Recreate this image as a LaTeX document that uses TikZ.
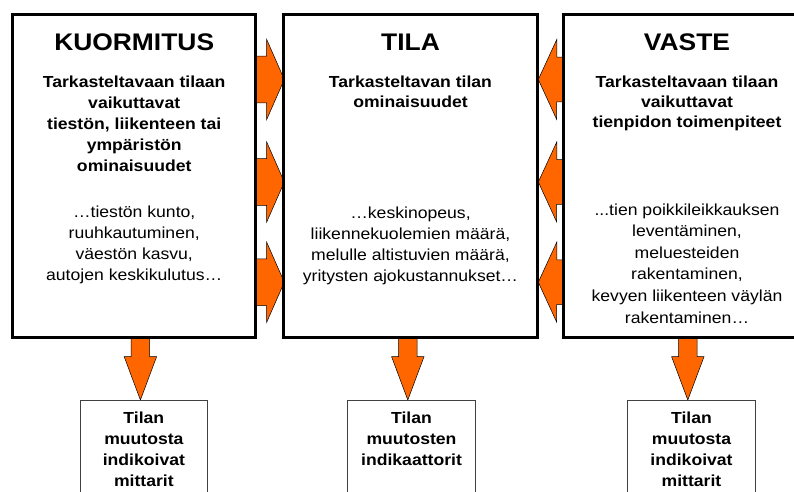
\documentclass[tikz,border=0pt]{standalone}
\usepackage{fontspec}
\setmainfont{Liberation Sans}[FakeStretch=1.1]
\usetikzlibrary{calc,backgrounds}
\definecolor{arroworange}{HTML}{FF6600}
\begin{document}
\begin{tikzpicture}[x=1pt,y=-1pt,
  mainbox/.style={draw=black, line width=3pt, inner sep=0pt, outer sep=0pt},
  smallbox/.style={draw=black!75, line width=0.9pt, inner sep=0pt, outer sep=0pt},
  headline/.style={font=\fontsize{24}{28}\selectfont\bfseries, anchor=base, inner sep=0pt},
  lead/.style={font=\fontsize{16}{21}\selectfont\bfseries, align=center, anchor=base, inner sep=0pt},
  detail/.style={font=\fontsize{16}{21}\selectfont, align=center, anchor=base, inner sep=0pt},
  blockarrow/.style={fill=arroworange, draw=black, line width=0.5pt, line join=miter}]
\useasboundingbox (0,0) rectangle (794,491);
\clip (0,0) rectangle (794,491);

% three main columns
\node[mainbox, minimum width=243pt, minimum height=323.1pt] (kuorm) at (134.2,175.75) {};
\node[mainbox, minimum width=254.4pt, minimum height=323.1pt] (tila) at (410.5,175.75) {};
\node[mainbox, minimum width=247.7pt, minimum height=323.1pt] (vaste) at (687.2,175.75) {};

% indicator boxes below
\node[smallbox, minimum width=127.7pt, minimum height=119.3pt] (mitA) at (143.85,460.35) {};
\node[smallbox, minimum width=128.4pt, minimum height=119.3pt] (mitB) at (411.5,460.35) {};
\node[smallbox, minimum width=128.4pt, minimum height=119.3pt] (mitC) at (691.5,460.35) {};

% column texts (multi-line nodes sit on the baseline of their last line)
\node[headline] (kuorm-h) at (134.2,50.7) {KUORMITUS};
\node[lead] (kuorm-l) at (134.2,171.7) {Tarkasteltavaan tilaan\\vaikuttavat\\tiestön, liikenteen tai\\ympäristön\\ominaisuudet};
\node[detail, font=\fontsize{16}{20.7}\selectfont] (kuorm-d) at (134.2,280) {…tiestön kunto,\\ruuhkautuminen,\\väestön kasvu,\\autojen keskikulutus…};

\node[headline] (tila-h) at (410.5,50.7) {TILA};
\node[lead, font=\fontsize{16}{20.5}\selectfont\bfseries] (tila-l) at (410.5,107.8) {Tarkasteltavan tilan\\ominaisuudet};
\node[detail] (tila-d) at (410.5,281) {…keskinopeus,\\liikennekuolemien määrä,\\melulle altistuvien määrä,\\yritysten ajokustannukset…};

\node[headline] (vaste-h) at (687,50.7) {VASTE};
\node[lead, font=\fontsize{16}{20.2}\selectfont\bfseries] (vaste-l) at (687,127.9) {Tarkasteltavaan tilaan\\vaikuttavat\\tienpidon toimenpiteet};
\node[detail, font=\fontsize{16}{21.6}\selectfont] (vaste-d) at (687,323) {...tien poikkileikkauksen\\leventäminen,\\meluesteiden\\rakentaminen,\\kevyen liikenteen väylän\\rakentaminen…};

\node[lead, font=\fontsize{16}{21.2}\selectfont\bfseries] (mitA-t) at (143.85,486.6) {Tilan\\muutosta\\indikoivat\\mittarit};
\node[lead, font=\fontsize{16}{21.2}\selectfont\bfseries] (mitB-t) at (411.5,465.4) {Tilan\\muutosten\\indikaattorit};
\node[lead, font=\fontsize{16}{21.2}\selectfont\bfseries] (mitC-t) at (691.5,486.6) {Tilan\\muutosta\\indikoivat\\mittarit};

% block arrows, kept behind the box borders
\begin{scope}[on background layer]
  \foreach \yy [count=\i] in {79.5,182,282.2} {
    \coordinate (lv\i) at (0,\yy);
    \draw[blockarrow] (kuorm.east |- lv\i) ++(0,-23.3) -- ++(11,0) -- ++(0,-16.7)
      -- ([xshift=1pt]tila.west |- lv\i) -- ++(-17.6,40) -- ++(0,-16.7) -- ++(-11,0) -- cycle;
    \draw[blockarrow] (vaste.west |- lv\i) ++(0,-22.3) -- ++(-6.6,0) -- ++(0,-17.7)
      -- ([xshift=0.6pt]tila.east |- lv\i) -- ++(18.4,40) -- ++(0,-17.7) -- ++(6.6,0) -- cycle;
  }
  \foreach \src/\dst/\xx in {kuorm/mitA/140.4, tila/mitB/407.8, vaste/mitC/687.8} {
    \coordinate (dv) at (\xx,0);
    \draw[blockarrow] (\src.south -| dv) ++(-9.3,0) -- ++(0,19.4) -- ++(-6.9,0)
      -- ([yshift=0.7pt]\dst.north -| dv) -- ++(16.2,-43.3) -- ++(-6.9,0) -- ++(0,-19.4) -- cycle;
  }
\end{scope}
\end{tikzpicture}
\end{document}
